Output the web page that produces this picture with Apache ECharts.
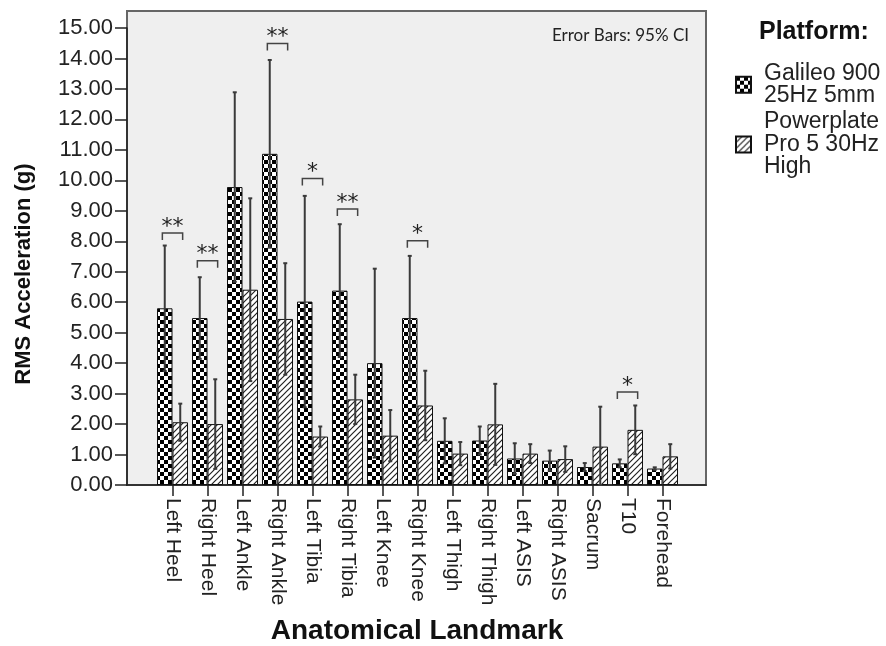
<!DOCTYPE html>
<html>
<head>
<meta charset="utf-8">
<script src="https://cdn.jsdelivr.net/npm/echarts@6/dist/echarts.min.js"></script>
<style>
  html, body { margin: 0; padding: 0; background: #fff; }
  #chart { width: 886px; height: 646px; }
</style>
</head>
<body>
<div id="chart"></div>
<script>
const categories = ['Left Heel', 'Right Heel', 'Left Ankle', 'Right Ankle', 'Left Tibia', 'Right Tibia',
  'Left Knee', 'Right Knee', 'Left Thigh', 'Right Thigh', 'Left ASIS', 'Right ASIS', 'Sacrum', 'T10', 'Forehead']

const galileoName = 'Galileo 900 25Hz 5mm'
const powerName = 'Powerplate Pro 5 30Hz High'

// means + 95% CI
const galileo = [5.80, 5.48, 9.78, 10.87, 6.02, 6.38, 4.00, 5.48, 1.45, 1.46, 0.87, 0.80, 0.59, 0.71, 0.54]
const galileoLo = [3.74, 4.14, 6.67, 7.79, 2.55, 4.20, 0.90, 3.44, 0.71, 1.00, 0.37, 0.47, 0.46, 0.58, 0.50]
const galileoHi = [7.86, 6.82, 12.89, 13.95, 9.49, 8.56, 7.10, 7.52, 2.19, 1.92, 1.37, 1.13, 0.72, 0.84, 0.58]

const power = [2.06, 2.00, 6.41, 5.45, 1.59, 2.81, 1.62, 2.61, 1.03, 1.99, 1.03, 0.85, 1.26, 1.81, 0.94]
const powerLo = [1.45, 0.53, 3.41, 3.62, 1.26, 2.00, 0.78, 1.47, 0.65, 0.66, 0.72, 0.43, 0.00, 1.01, 0.54]
const powerHi = [2.67, 3.47, 9.41, 7.28, 1.92, 3.62, 2.46, 3.75, 1.41, 3.32, 1.34, 1.27, 2.57, 2.61, 1.34]

// significance brackets
const sigIdx = [0, 1, 3, 4, 5, 7, 13]
const sigY = [8.27, 7.36, 14.49, 10.06, 9.06, 8.02, 3.05]
const sigLabel = ['**', '**', '**', '*', '**', '*', '*']

const FONT = '"Liberation Sans", Arial, sans-serif'
const BAR_W = 15.5

function checker() {
  const c = document.createElement('canvas')
  c.width = 8
  c.height = 8
  const ctx = c.getContext('2d')
  ctx.fillStyle = '#fff'
  ctx.fillRect(0, 0, 8, 8)
  ctx.fillStyle = '#000'
  ctx.fillRect(0, 0, 4, 4)
  ctx.fillRect(4, 4, 4, 4)
  return c
}

function hatch() {
  const s = 6
  const c = document.createElement('canvas')
  c.width = s
  c.height = s
  const ctx = c.getContext('2d')
  ctx.fillStyle = '#fff'
  ctx.fillRect(0, 0, s, s)
  ctx.strokeStyle = '#222'
  ctx.lineWidth = 1.2
  ctx.beginPath()
  ctx.moveTo(0, s); ctx.lineTo(s, 0)
  ctx.moveTo(-1, 1); ctx.lineTo(1, -1)
  ctx.moveTo(s - 1, s + 1); ctx.lineTo(s + 1, s - 1)
  ctx.stroke()
  return c
}

function errorSeries(lo, hi, offset) {
  return {
    type: 'custom',
    xAxisIndex: 2,
    yAxisIndex: 2,
    z: 5,
    silent: true,
    data: lo.map((l, i) => [i, l, hi[i]]),
    renderItem: (params, api) => {
      const x = api.coord([api.value(0), 0])[0] + offset
      const yLo = api.coord([api.value(0), api.value(1)])[1]
      const yHi = api.coord([api.value(0), api.value(2)])[1]
      const st = { stroke: '#3a3a3a', lineWidth: 2 }
      return {
        type: 'group',
        children: [
          { type: 'line', shape: { x1: x, y1: yLo, x2: x, y2: yHi }, style: st },
          { type: 'line', shape: { x1: x - 2, y1: yHi, x2: x + 2, y2: yHi }, style: st },
          { type: 'line', shape: { x1: x - 2, y1: yLo, x2: x + 2, y2: yLo }, style: st },
        ],
      }
    },
  }
}

const chart = echarts.init(document.getElementById('chart'))

chart.setOption({
  backgroundColor: '#fff',
  animation: false,
  title: [
    {
      text: 'Platform:', left: 759, top: 20, padding: 0,
      textStyle: { fontFamily: FONT, fontSize: 25, fontWeight: 'bold', color: '#111' },
    },
    {
      text: 'Error Bars: 95% CI', right: 197, top: 27, padding: 0,
      textStyle: { fontFamily: 'Lato, sans-serif', fontSize: 17, fontWeight: 'normal', color: '#222' },
    },
  ],
  legend: {
    data: [galileoName, powerName],
    orient: 'vertical',
    left: 735,
    top: 62,
    padding: 0,
    itemWidth: 15,
    itemHeight: 16,
    itemGap: 3,
    icon: 'rect',
    formatter: (n) => (n === galileoName ? 'Galileo 900\n25Hz 5mm' : 'Powerplate\nPro 5 30Hz\nHigh'),
    textStyle: { fontFamily: FONT, fontSize: 23, lineHeight: 22.5, color: '#222', padding: [0, 0, 0, 8] },
  },
  graphic: [
    {
      type: 'text', x: 24, y: 274, rotation: Math.PI / 2,
      style: {
        text: 'RMS Acceleration (g)', font: 'bold 22px ' + FONT, fill: '#111',
        textAlign: 'center', textVerticalAlign: 'middle', align: 'center', verticalAlign: 'middle',
      },
    },
    {
      type: 'text', x: 417, y: 631,
      style: {
        text: 'Anatomical Landmark', font: 'bold 28px ' + FONT, fill: '#111',
        textAlign: 'center', textVerticalAlign: 'middle', align: 'center', verticalAlign: 'middle',
      },
    },
  ],
  grid: [
    { left: 127, top: 11, width: 579, height: 474, show: true, backgroundColor: '#efefef',
      borderColor: '#666', borderWidth: 2, outerBoundsMode: 'none' },
    { left: 127, top: 28, width: 579, height: 457, outerBoundsMode: 'none' },
    { left: 155, top: 28, width: 525, height: 457, outerBoundsMode: 'none' },
  ],
  xAxis: [
    { gridIndex: 0, type: 'value', show: false },
    {
      gridIndex: 1, type: 'value', min: 0, max: 1,
      axisLine: { show: true, lineStyle: { color: '#222', width: 1.5 } },
      axisTick: { show: false }, axisLabel: { show: false }, splitLine: { show: false },
    },
    {
      gridIndex: 2, type: 'category', data: categories,
      axisLine: { show: false },
      axisTick: { show: true, alignWithLabel: true, length: 11, lineStyle: { color: '#222', width: 1.5 } },
      axisLabel: { interval: 0, rotate: -90, margin: 13, fontFamily: FONT, fontSize: 21, color: '#222' },
    },
  ],
  yAxis: [
    { gridIndex: 0, type: 'value', show: false },
    {
      gridIndex: 1, type: 'value', min: 0, max: 15, interval: 1,
      axisLine: { show: true, lineStyle: { color: '#222', width: 1.5 } },
      axisTick: { show: true, length: 12, lineStyle: { color: '#222', width: 1.5 } },
      axisLabel: { margin: 14, fontFamily: FONT, fontSize: 22, color: '#222', formatter: (v) => v.toFixed(2) },
      splitLine: { show: false },
    },
    { gridIndex: 2, type: 'value', min: 0, max: 15, show: false },
  ],
  series: [
    {
      name: galileoName, type: 'bar', xAxisIndex: 2, yAxisIndex: 2,
      data: galileo, barWidth: BAR_W, barGap: '0%', z: 2,
      itemStyle: { color: { image: checker(), repeat: 'repeat' }, borderColor: '#111', borderWidth: 1 },
    },
    {
      name: powerName, type: 'bar', xAxisIndex: 2, yAxisIndex: 2,
      data: power, barWidth: BAR_W, barGap: '0%', z: 2,
      itemStyle: { color: { image: hatch(), repeat: 'repeat' }, borderColor: '#111', borderWidth: 1 },
    },
    errorSeries(galileoLo, galileoHi, -BAR_W / 2),
    errorSeries(powerLo, powerHi, BAR_W / 2),
    {
      type: 'custom', xAxisIndex: 2, yAxisIndex: 2, z: 6, silent: true,
      data: sigIdx.map((c, i) => [c, sigY[i]]),
      renderItem: (params, api) => {
        const p = api.coord([api.value(0), api.value(1)])
        const half = api.size([1, 0])[0] * 0.29
        return {
          type: 'group',
          children: [
            {
              type: 'polyline',
              shape: { points: [[p[0] - half, p[1] + 7], [p[0] - half, p[1]], [p[0] + half, p[1]], [p[0] + half, p[1] + 7]] },
              style: { stroke: '#444', lineWidth: 1.5, fill: null },
            },
            {
              type: 'text', x: p[0], y: p[1] - 6,
              style: {
                text: sigLabel[params.dataIndex], font: '22px "DejaVu Sans"', fill: '#222',
                textAlign: 'center', textVerticalAlign: 'middle', align: 'center', verticalAlign: 'middle',
              },
            },
          ],
        }
      },
    },
  ],
})
</script>
</body>
</html>
